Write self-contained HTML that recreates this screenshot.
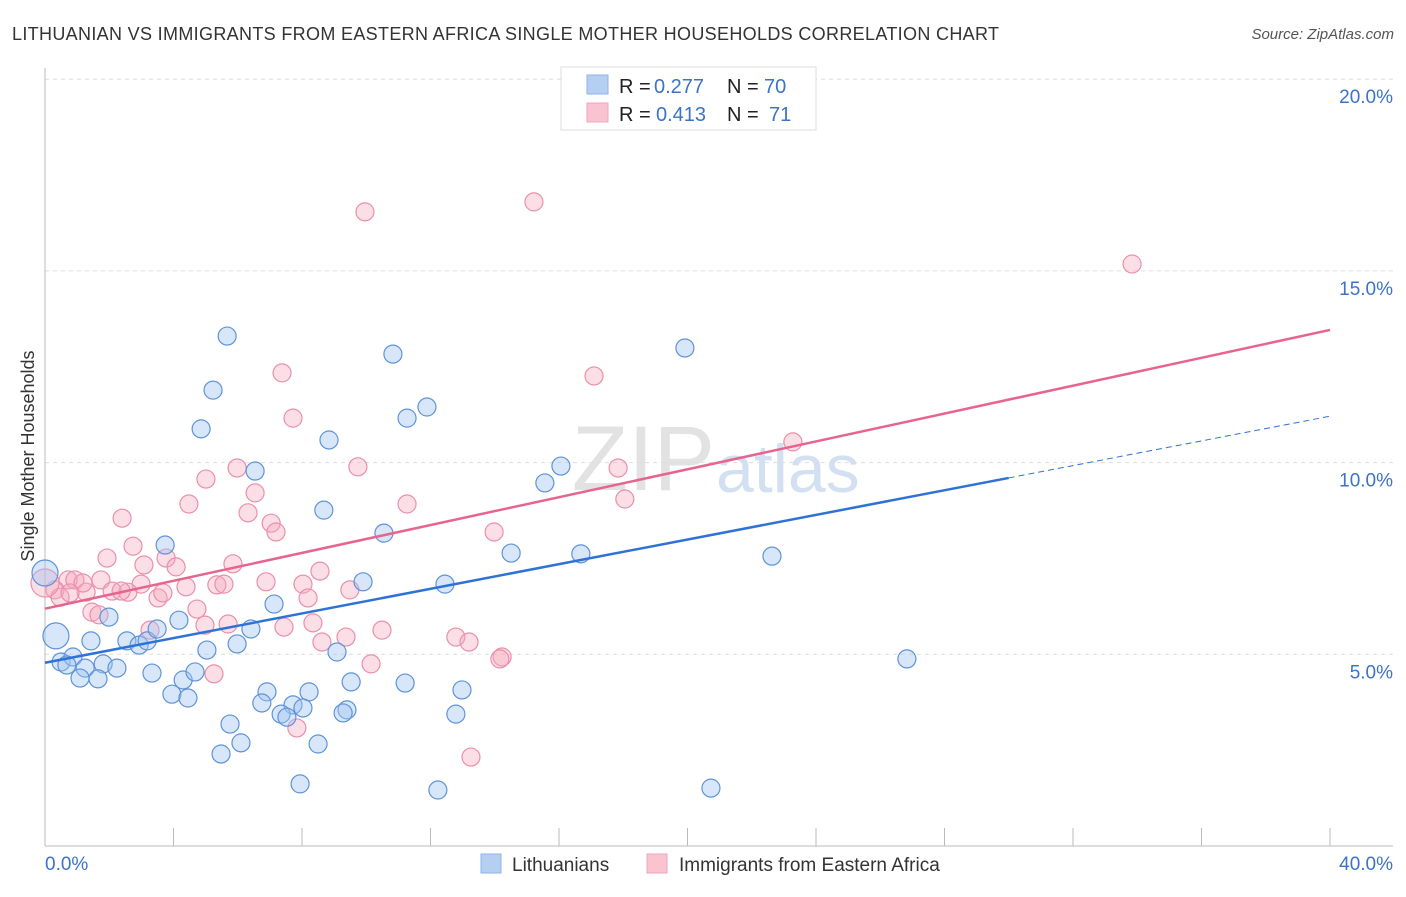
<!DOCTYPE html>
<html><head><meta charset="utf-8"><style>
body{margin:0;background:#fff;font-family:"Liberation Sans",sans-serif;}
svg text{font-family:"Liberation Sans",sans-serif;}
</style></head><body>
<svg id="chart" width="1406" height="892" xmlns="http://www.w3.org/2000/svg">
<text x="12" y="40" font-size="18" fill="#333" textLength="987">LITHUANIAN VS IMMIGRANTS FROM EASTERN AFRICA SINGLE MOTHER HOUSEHOLDS CORRELATION CHART</text>
<text x="1394" y="39" font-size="15" fill="#555" text-anchor="end" font-style="italic">Source: ZipAtlas.com</text>
<text x="715" y="490" font-size="92" fill="#e2e2e2" text-anchor="end" font-family="Liberation Serif">ZIP</text>
<text x="716" y="492" font-size="68" fill="#d3e0f2">atlas</text>
<g id="grid"></g>
<g id="axes"></g>
<g id="pts"></g>
<g id="lines"></g>
<text transform="translate(34,456) rotate(-90)" font-size="18" fill="#333" text-anchor="middle">Single Mother Households</text>
<g>
<rect x="561" y="67" width="255" height="63" fill="#fff" stroke="#ddd"/>
<rect x="587" y="75" width="21" height="19" fill="#b5cff2" stroke="#8fb3e6"/>
<rect x="587" y="103" width="21" height="19" fill="#f9c3d2" stroke="#eea5bb"/>
<text x="619" y="93" font-size="20" fill="#222">R =</text>
<text x="654" y="93" font-size="20" fill="#3b73c8">0.277</text>
<text x="727" y="93" font-size="20" fill="#222">N =</text>
<text x="764" y="93" font-size="20" fill="#3b73c8">70</text>
<text x="619" y="121" font-size="20" fill="#222">R =</text>
<text x="656" y="121" font-size="20" fill="#3b73c8">0.413</text>
<text x="727" y="121" font-size="20" fill="#222">N =</text>
<text x="769" y="121" font-size="20" fill="#3b73c8">71</text>
</g>
<g>
<rect x="481" y="854" width="20" height="19" fill="#b5cff2" stroke="#8fb3e6"/>
<text x="512" y="871" font-size="19" fill="#333">Lithuanians</text>
<rect x="647" y="854" width="20" height="19" fill="#f9c3d2" stroke="#eea5bb"/>
<text x="679" y="871" font-size="19" fill="#333">Immigrants from Eastern Africa</text>
</g>
</svg>
<script>
const yTicks=[5,10,15,20];
const yTickLabels=["5.0%","10.0%","15.0%","20.0%"];
const xTickVals=[4,8,12,16,20,24,28,32,36,40];
const blueX=[5.67,5.23,4.86,10.83,11.27,11.89,19.92,8.84,6.54,16.06,15.56,8.68,10.55,3.74,14.51,16.68,22.63,9.90,12.45,7.13,1.99,4.17,1.43,2.55,2.93,3.18,3.49,5.04,5.98,6.41,9.09,0.50,0.87,0.68,1.25,1.81,2.24,1.09,1.65,3.33,4.30,4.67,3.95,4.45,6.91,6.75,8.22,7.72,8.03,7.35,7.53,9.53,11.21,12.98,9.40,9.28,5.76,6.10,5.48,8.50,12.79,7.94,12.23,20.73,26.83,0.34,0.0];
const blueY=[13.30,11.89,10.88,12.83,11.16,11.45,12.99,10.59,9.78,9.91,9.47,8.76,8.16,7.85,7.64,7.62,7.56,6.89,6.83,6.31,5.97,5.89,5.35,5.35,5.24,5.35,5.66,5.11,5.27,5.66,5.06,4.80,4.93,4.72,4.64,4.75,4.64,4.38,4.36,4.51,4.33,4.54,3.96,3.86,4.02,3.73,4.02,3.68,3.60,3.44,3.36,4.28,4.25,4.07,3.55,3.47,3.18,2.69,2.40,2.66,3.44,1.62,1.46,1.51,4.88,5.48,7.12];
const blueBig=[65,66];
const pinkX=[9.96,15.22,33.84,7.38,17.09,7.72,23.28,9.74,17.84,5.98,5.01,6.54,4.48,11.27,18.05,6.32,2.40,7.04,7.19,13.98,2.74,1.93,3.77,5.85,3.08,4.08,8.56,0.72,0.93,1.74,6.88,8.03,5.35,5.57,2.99,4.39,9.49,2.09,2.58,1.28,0.31,0.47,3.52,3.67,8.19,4.73,1.46,1.68,4.98,5.70,8.34,3.27,7.44,10.49,9.37,12.79,8.62,13.20,14.23,14.16,10.15,5.26,7.84,13.26,1.18,2.37,0.78,0.0];
const pinkY=[16.54,16.80,15.18,12.34,12.26,11.16,10.54,9.89,9.86,9.86,9.57,9.21,8.92,8.92,9.05,8.69,8.55,8.42,8.19,8.19,7.82,7.51,7.51,7.36,7.33,7.28,7.17,6.94,6.94,6.94,6.89,6.83,6.81,6.83,6.83,6.76,6.68,6.65,6.62,6.62,6.68,6.49,6.47,6.60,6.47,6.18,6.10,6.03,5.76,5.79,5.82,5.63,5.71,5.63,5.45,5.45,5.32,5.32,4.93,4.88,4.75,4.49,3.08,2.32,6.86,6.65,6.60,6.86];
const pinkBig=[67];
const blueTrend=[0,4.78,30,9.60,40,11.21];
const pinkTrend=[0,6.19,40,13.46];
const NS="http://www.w3.org/2000/svg";
const sx=v=>45+v*32.125, sy=v=>846-v*38.34;
function mk(t,a,p){const e=document.createElementNS(NS,t);for(const k in a)e.setAttribute(k,a[k]);p.appendChild(e);return e;}
const grid=document.getElementById('grid'),axes=document.getElementById('axes'),pts=document.getElementById('pts'),lines=document.getElementById('lines');
yTicks.forEach((v,i)=>{
 const l=mk('line',{x1:45,x2:1393,y1:sy(v),y2:sy(v),stroke:'#ddd','stroke-dasharray':'4,4'},grid);
 
 
 const t=mk('text',{x:1393,y:sy(v)+24,'font-size':19,fill:'#3b73c8','text-anchor':'end'},axes);
 t.textContent=yTickLabels[i];
 
 
});
const ya=mk('line',{x1:45,x2:45,y1:68,y2:846,stroke:'#bbb'},axes);


const xa=mk('line',{x1:45,x2:1393,y1:846,y2:846,stroke:'#bbb'},axes);


xTickVals.forEach(v=>{
 const k=mk('line',{x1:sx(v),x2:sx(v),y1:828,y2:846,stroke:'#bbb'},axes);
 
 
});
const x0=mk('text',{x:45,y:870,'font-size':19,fill:'#3b73c8'},axes);x0.textContent='0.0%';


const x1=mk('text',{x:1393,y:870,'font-size':19,fill:'#3b73c8','text-anchor':'end'},axes);x1.textContent='40.0%';


pinkX.forEach((v,i)=>{
 const c=mk('circle',{cx:sx(v),cy:sy(pinkY[i]),r:pinkBig.includes(i)?14:9,fill:'rgba(247,168,190,0.38)',stroke:'#eb8fac','stroke-width':1.2},pts);
 
 
});
blueX.forEach((v,i)=>{
 const c=mk('circle',{cx:sx(v),cy:sy(blueY[i]),r:blueBig.includes(i)?13:9,fill:'rgba(160,196,240,0.42)',stroke:'#5e93db','stroke-width':1.2},pts);
 
 
});
const b1=mk('line',{x1:sx(blueTrend[0]),y1:sy(blueTrend[1]),x2:sx(blueTrend[2]),y2:sy(blueTrend[3]),stroke:'#2f72d6','stroke-width':2.5},lines);


const b2=mk('line',{x1:sx(blueTrend[2]),y1:sy(blueTrend[3]),x2:sx(blueTrend[4]),y2:sy(blueTrend[5]),stroke:'#2f72d6','stroke-width':1,'stroke-dasharray':'6,4'},lines);


const p1=mk('line',{x1:sx(pinkTrend[0]),y1:sy(pinkTrend[1]),x2:sx(pinkTrend[2]),y2:sy(pinkTrend[3]),stroke:'#e6648f','stroke-width':2.5},lines);


</script>
</body></html>
